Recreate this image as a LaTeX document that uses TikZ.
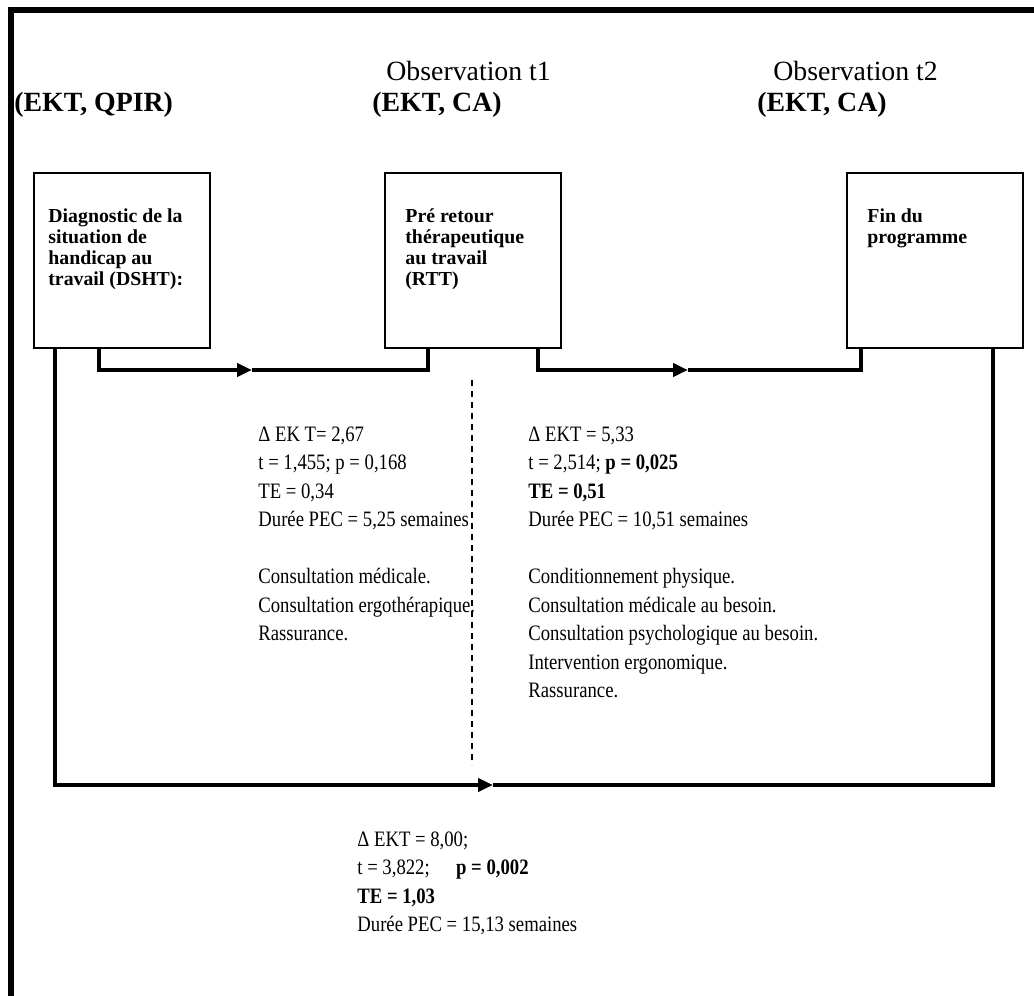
\documentclass[tikz,border=0pt]{standalone}
\usepackage{fontspec}
\setmainfont{Liberation Serif}
\newfontfamily\statface[FakeStretch=0.85]{Liberation Serif}
\usepackage{tikz}
\usetikzlibrary{arrows.meta, positioning}

\newcommand{\headfont}{\fontsize{13.9}{14.25}\selectfont}
\newcommand{\bodyfont}{\statface\fontsize{11}{14.25}\selectfont}
\newcommand{\boxfont}{\fontsize{9.9}{10.5}\selectfont\bfseries}

\begin{document}
\begin{tikzpicture}[x=0.5pt, y=-0.5pt,
    stagebox/.style={draw, line width=1pt, minimum width=88pt, minimum height=87.5pt, inner sep=0pt, anchor=north west},
    stagetext/.style={anchor=north west, inner sep=0pt, align=left, font=\boxfont},
    statblock/.style={anchor=north west, inner sep=0pt, align=left, font=\bodyfont},
    head/.style={anchor=base west, inner sep=0pt, font=\headfont},
    flow/.style={line width=2pt},
    midtip/.style={-{Triangle[length=7.5pt, width=6.5pt]}}]
    \useasboundingbox (0,0) rectangle (1034,996);

    % Outer frame (open at right and bottom)
    \draw[line width=3pt] (11,996) -- (11,10) -- (1034,10);

    % Measurement headers
    \node[head] (toolsA) at (14,111) {\bfseries (EKT, QPIR)};
    \node[head] (obsA) at (386,80) {Observation t1};
    \node[head] (toolsB) at (372,111) {\bfseries (EKT, CA)};
    \node[head] (obsB) at (773,80) {Observation t2};
    \node[head] (toolsC) at (757,111) {\bfseries (EKT, CA)};

    % Stages
    \foreach \n/\x in {dsht/33, rtt/384, fin/846} {
        \node[stagebox] (\n) at (\x,172) {};
    }
    \node[stagetext] (dshttxt) at ([xshift=7.5pt, yshift=-17.6pt]dsht.north west)
        {\strut Diagnostic de la\\situation de\\handicap au\\travail (DSHT):};
    \node[stagetext] (rtttxt) at ([xshift=10.5pt, yshift=-17.6pt]rtt.north west)
        {\strut Pré retour\\thérapeutique\\au travail\\(RTT)};
    \node[stagetext] (fintxt) at ([xshift=10.5pt, yshift=-17.6pt]fin.north west)
        {\strut Fin du\\programme};

    % Connector ends
    \coordinate (dA) at ([xshift=33pt]dsht.south west);
    \coordinate (dB) at ([xshift=11pt]dsht.south west);
    \coordinate (rA) at ([xshift=22pt]rtt.south west);
    \coordinate (rB) at ([xshift=77pt]rtt.south west);
    \coordinate (fA) at ([xshift=7.5pt]fin.south west);
    \coordinate (fB) at ([xshift=73.5pt]fin.south west);
    \coordinate (midA) at (252,370);
    \coordinate (midB) at (688,370);
    \coordinate (midC) at (493,785);

    % Stage transitions
    \draw[flow, midtip] (dA) |- (midA);
    \draw[flow] (midA) -| (rA);
    \draw[flow, midtip] (rB) |- (midB);
    \draw[flow] (midB) -| (fA);
    \draw[flow, midtip] (dB) |- (midC);
    \draw[flow] (midC) -| (fB);

    % Split between the two periods
    \draw[line width=0.75pt, dash pattern=on 3pt off 2.5pt] (472,380) -- (472,765);

    % Results
    \node[statblock] (resA) at (258,421)
        {\strut Δ EK T= 2,67\\t = 1,455; p = 0,168\\TE = 0,34\\Durée PEC = 5,25 semaines\\[14.25pt]
         Consultation médicale.\\Consultation ergothérapique.\\Rassurance.};
    \node[statblock] (resB) at (528,421)
        {\strut Δ EKT = 5,33\\t = 2,514; \textbf{p = 0,025}\\\textbf{TE = 0,51}\\Durée PEC = 10,51 semaines\\[14.25pt]
         Conditionnement physique.\\Consultation médicale au besoin.\\Consultation psychologique au besoin.\\Intervention ergonomique.\\Rassurance.};
    \node[statblock] (resC) at (357,826)
        {\strut Δ EKT = 8,00;\\t = 3,822;\hspace{1.2em}\textbf{p = 0,002}\\\textbf{TE = 1,03}\\Durée PEC = 15,13 semaines};
\end{tikzpicture}
\end{document}
